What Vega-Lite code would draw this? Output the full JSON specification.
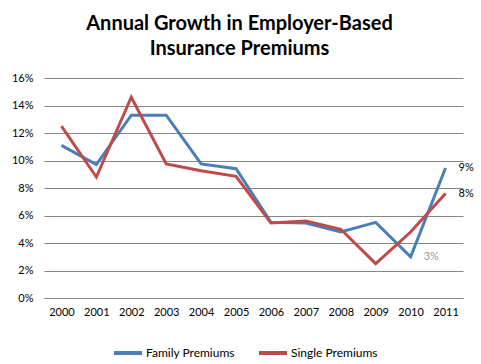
{
  "$schema": "https://vega.github.io/schema/vega-lite/v6.json",
  "width": 419,
  "height": 220,
  "autosize": {"type": "none"},
  "padding": {"left": 44, "top": 78, "right": 18, "bottom": 66},
  "background": "white",
  "config": {
    "font": "Lato",
    "view": {"stroke": null},
    "axis": {"labelFont": "Lato", "labelFontSize": 11, "labelColor": "#000000"}
  },
  "title": {
    "text": ["Annual Growth in Employer-Based", "Insurance Premiums"],
    "font": "Lato",
    "fontSize": 20,
    "fontWeight": "bold",
    "color": "#000000",
    "lineHeight": 25,
    "anchor": "middle",
    "dx": -14,
    "offset": 13
  },
  "datasets": {
    "series": [
      {"year": "2000", "series": "Family Premiums", "value": 11.1},
      {"year": "2001", "series": "Family Premiums", "value": 9.7},
      {"year": "2002", "series": "Family Premiums", "value": 13.3},
      {"year": "2003", "series": "Family Premiums", "value": 13.3},
      {"year": "2004", "series": "Family Premiums", "value": 9.75},
      {"year": "2005", "series": "Family Premiums", "value": 9.4},
      {"year": "2006", "series": "Family Premiums", "value": 5.5},
      {"year": "2007", "series": "Family Premiums", "value": 5.45},
      {"year": "2008", "series": "Family Premiums", "value": 4.8},
      {"year": "2009", "series": "Family Premiums", "value": 5.5},
      {"year": "2010", "series": "Family Premiums", "value": 3.0},
      {"year": "2011", "series": "Family Premiums", "value": 9.45},
      {"year": "2000", "series": "Single Premiums", "value": 12.5},
      {"year": "2001", "series": "Single Premiums", "value": 8.8},
      {"year": "2002", "series": "Single Premiums", "value": 14.6},
      {"year": "2003", "series": "Single Premiums", "value": 9.75},
      {"year": "2004", "series": "Single Premiums", "value": 9.25},
      {"year": "2005", "series": "Single Premiums", "value": 8.85},
      {"year": "2006", "series": "Single Premiums", "value": 5.45},
      {"year": "2007", "series": "Single Premiums", "value": 5.6},
      {"year": "2008", "series": "Single Premiums", "value": 5.0},
      {"year": "2009", "series": "Single Premiums", "value": 2.5},
      {"year": "2010", "series": "Single Premiums", "value": 4.8},
      {"year": "2011", "series": "Single Premiums", "value": 7.6}
    ],
    "labels": [
      {"year": "2011", "value": 9.45, "label": "9%"},
      {"year": "2011", "value": 7.6, "label": "8%"},
      {"year": "2010", "value": 3.0, "label": "3%"}
    ]
  },
  "encoding": {
    "x": {
      "field": "year",
      "type": "ordinal",
      "scale": {"type": "point", "padding": 0.5},
      "axis": {"title": null, "labelAngle": 0, "ticks": false, "domain": true, "domainColor": "#868686", "labelPadding": 8, "grid": false}
    },
    "y": {
      "field": "value",
      "type": "quantitative",
      "scale": {"domain": [0, 16]},
      "axis": {"title": null, "values": [0, 2, 4, 6, 8, 10, 12, 14, 16], "labelExpr": "datum.value + '%'", "ticks": false, "domain": false, "gridColor": "#868686", "gridWidth": 1, "labelPadding": 11}
    }
  },
  "layer": [
    {
      "data": {"name": "series"},
      "mark": {"type": "line", "strokeWidth": 3},
      "encoding": {
        "color": {
          "field": "series",
          "type": "nominal",
          "scale": {"domain": ["Family Premiums", "Single Premiums"], "range": ["#4A7EBB", "#BE4B48"]},
          "legend": {
            "title": null,
            "orient": "none",
            "legendX": 68,
            "legendY": 259,
            "direction": "horizontal",
            "symbolType": "stroke",
            "symbolSize": 784,
            "symbolStrokeWidth": 4,
            "labelFont": "Lato",
            "labelFontSize": 12,
            "labelColor": "#000000",
            "labelOffset": 2,
            "columnPadding": 16
          }
        }
      }
    },
    {
      "data": {"name": "labels"},
      "transform": [{"filter": "datum.year == '2011'"}],
      "mark": {"type": "text", "align": "left", "dx": 13, "fontSize": 11, "font": "Lato", "color": "#000000"},
      "encoding": {"text": {"field": "label"}}
    },
    {
      "data": {"name": "labels"},
      "transform": [{"filter": "datum.year == '2010'"}],
      "mark": {"type": "text", "align": "left", "dx": 13, "fontSize": 11, "font": "Lato", "color": "#999999"},
      "encoding": {"text": {"field": "label"}}
    }
  ]
}
